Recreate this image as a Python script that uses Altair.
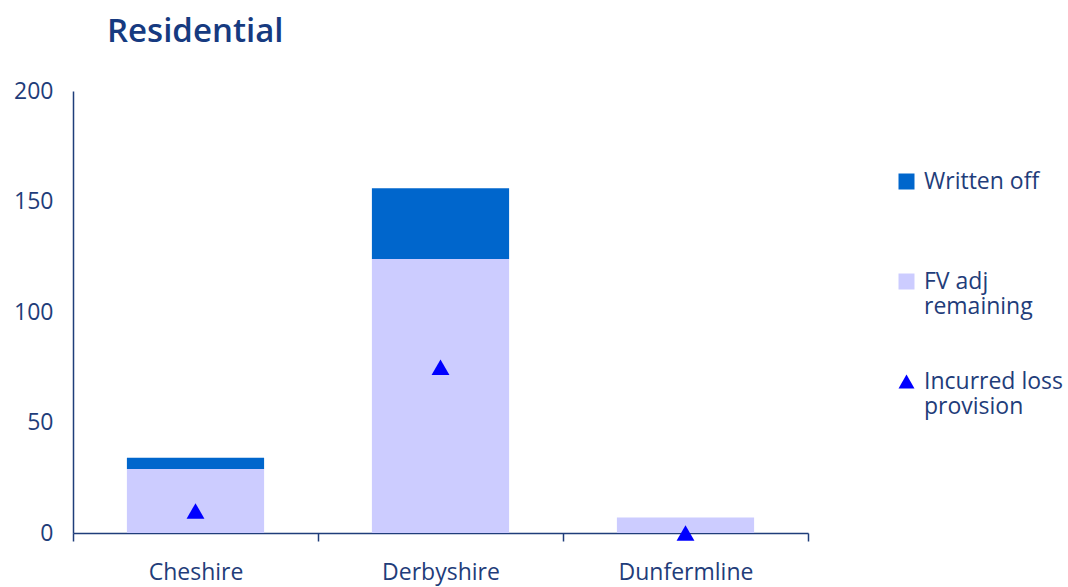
import altair as alt
import pandas as pd

categories = ["Cheshire", "Derbyshire", "Dunfermline"]
fv_remaining = [29, 124, 7]
written_off = [5, 32, 0]
incurred_loss = [10, 75, 0]

series_names = ["Written off", "FV adj remaining", "Incurred loss provision"]
series_colors = ["#0066CC", "#CCCCFF", "#0000FF"]
series_shapes = ["square", "square", "triangle-up"]

NAVY = "#1F3D7A"
TITLE_NAVY = "#163A80"
FONT = "Open Sans"

rows = []
for c, fv, wo in zip(categories, fv_remaining, written_off):
    rows.append({"region": c, "series": "FV adj remaining", "value": fv, "ord": 1})
    rows.append({"region": c, "series": "Written off", "value": wo, "ord": 2})
bar_df = pd.DataFrame(rows)
pt_df = pd.DataFrame({"region": categories, "series": "Incurred loss provision", "value": incurred_loss})

x_enc = alt.X(
    "region:N", sort=categories, title=None,
    scale=alt.Scale(paddingInner=0, paddingOuter=0),
    axis=alt.Axis(labelAngle=0, labelFontSize=23, labelColor=NAVY, labelFont=FONT,
                  labelPadding=20, tickSize=8, tickColor=NAVY, tickWidth=1.5,
                  tickBand="extent", domainColor=NAVY, domainWidth=1.5),
)
y_enc = alt.Y(
    "value:Q", title=None, stack="zero",
    scale=alt.Scale(domain=[0, 200], nice=False),
    axis=alt.Axis(values=[0, 50, 100, 150, 200], grid=False, ticks=False, tickSize=0,
                  labelFontSize=23, labelColor=NAVY, labelFont=FONT, labelPadding=20,
                  domainColor=NAVY, domainWidth=1.5),
)

legend = alt.Legend(
    title=None, orient="none", legendX=822, legendY=79,
    symbolSize=256, labelFontSize=23, labelColor=NAVY, labelFont=FONT,
    labelOffset=6, rowPadding=51, symbolStrokeWidth=0, labelBaseline="middle",
    labelExpr="datum.label == 'FV adj remaining' ? ['FV adj', 'remaining'] : datum.label == 'Incurred loss provision' ? ['Incurred loss', 'provision'] : [datum.label, ' ']",
)
color_scale = alt.Scale(domain=series_names, range=series_colors)
shape_scale = alt.Scale(domain=series_names, range=series_shapes)

bars = alt.Chart(bar_df).mark_bar(strokeWidth=0, width=alt.RelativeBandSize(0.56)).encode(
    x=x_enc, y=y_enc,
    color=alt.Color("series:N", scale=color_scale, legend=legend),
    order=alt.Order("ord:Q"),
)
points = alt.Chart(pt_df).mark_point(filled=True, size=320, opacity=1).encode(
    x=x_enc, y=alt.Y("value:Q", stack=None),
    color=alt.Color("series:N", scale=color_scale, legend=legend),
    shape=alt.Shape("series:N", scale=shape_scale, legend=legend),
)

chart = alt.layer(bars, points).properties(
    width=735, height=442,
    padding={"left": 73, "top": 91, "right": 260, "bottom": 54},
    autosize=alt.AutoSizeParams(type="none"),
    title=alt.TitleParams("Residential", anchor="start", frame="group", dx=34, offset=5,
                          baseline="alphabetic", fontSize=33, fontWeight=600,
                          color=TITLE_NAVY, font=FONT),
).configure_view(stroke=None)

chart.save("out.html", embed_options={"renderer": "svg", "actions": False})
